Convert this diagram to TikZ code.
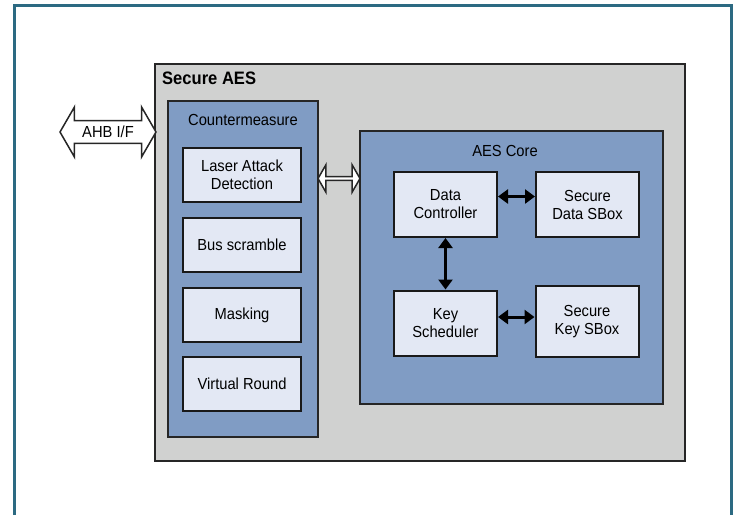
\documentclass[tikz,border=0pt]{standalone}
\usepackage{fontspec}
\setmainfont{Liberation Sans}[FakeStretch=0.92]
\usetikzlibrary{positioning,arrows.meta,shapes.arrows}
\definecolor{framecol}{RGB}{44,106,130}
\definecolor{aesgray}{RGB}{208,209,208}
\definecolor{cmblue}{RGB}{128,156,196}
\definecolor{boxfill}{RGB}{227,232,244}

\begin{document}
\begin{tikzpicture}[x=1pt,y=-1pt,
  font=\fontsize{16}{18}\selectfont,
  panel/.style={draw=black!85,line width=2pt,inner sep=0pt},
  block/.style={draw=black!90,line width=2pt,fill=boxfill,align=center,
    minimum width=118pt,minimum height=54pt,inner sep=0pt},
  core/.style={block,minimum width=103pt,minimum height=65pt},
  link/.style={{Triangle[length=10pt,width=14pt]}-{Triangle[length=10pt,width=14pt]},line width=3pt},
  bus/.style={double arrow,draw=black!85,line width=1.5pt,fill=white,inner sep=0pt,
    double arrow tip angle=120}]
  \useasboundingbox (0,0) rectangle (736,515);
  \draw[framecol,line width=3pt] (14,515) -- (14,5) -- (731,5) -- (731,515);

  % outer block
  \node[panel,fill=aesgray,minimum width=530pt,minimum height=397pt] (secaes) at (420,262.5) {};
  \node[anchor=north west,inner sep=0pt,font=\fontsize{18}{20}\selectfont\bfseries] (secaeslbl) at (162,72) {Secure AES};
  \node[bus,minimum height=96pt,minimum width=50pt,double arrow head extend=8pt] (ahb) at (108,132) {AHB I/F};

  % countermeasures
  \node[panel,fill=cmblue,minimum width=150pt,minimum height=336pt] (counter) at (243,269) {};
  \node[anchor=base] (counterlbl) at (243,125) {Countermeasure};
  \node[block] (laser) at (242,175) {Laser Attack\\Detection};
  \node[block,below=14pt of laser] (busscr) {Bus scramble};
  \node[block,below=14pt of busscr] (masking) {Masking};
  \node[block,below=13pt of masking] (vround) {Virtual Round};

  \node[bus,minimum height=42pt,minimum width=27pt,double arrow head extend=5pt] (corebus) at (339,178.5) {};

  % core
  \node[panel,fill=cmblue,minimum width=303pt,minimum height=273pt] (aescore) at (511.5,267.5) {};
  \node[anchor=base] (corelbl) at (505,156) {AES Core};
  \node[core] (datactl) at (445.5,204.5) {Data\\Controller};
  \node[core,right=37pt of datactl] (datasbox) {Secure\\Data SBox};
  \node[core] (keysch) at (445.5,323) {Key\\Scheduler};
  \node[core,minimum height=71pt] (keysbox) at (587,321.5) {Secure\\Key SBox};

  \draw[link] ([yshift=8pt]datactl.east) -- ([yshift=8pt]datasbox.west);
  \draw[link] ([yshift=6pt]keysch.east) -- ([yshift=4.5pt]keysbox.west);
  \draw[link] (datactl) -- (keysch);
\end{tikzpicture}
\end{document}
